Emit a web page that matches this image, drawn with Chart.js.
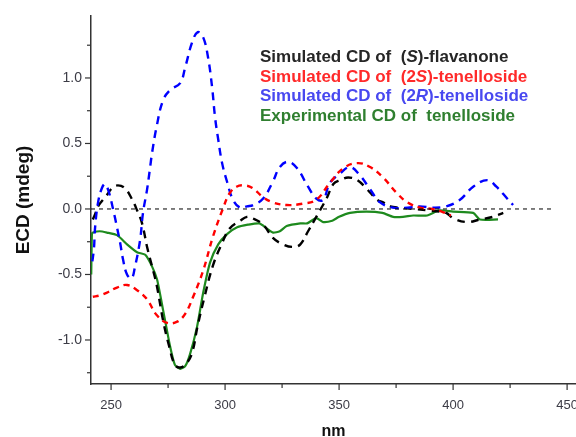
<!DOCTYPE html>
<html>
<head>
<meta charset="utf-8">
<script src="https://cdn.jsdelivr.net/npm/chart.js@4.4.1/dist/chart.umd.min.js"></script>
<style>
  html, body { margin: 0; padding: 0; background: #fff; }
  #wrap { width: 576px; height: 437px; }
</style>
</head>
<body>
<div id="wrap"><canvas id="ecd-chart"></canvas></div>
<script>
// wavelengths (nm) and ECD values (mdeg)
var flavNm   = [242, 243, 244.3, 246, 247.5, 250.5, 253, 256, 259, 261.4, 263.6, 265.8, 268, 270, 272.8, 275.5, 278, 280.3, 283, 285.5, 288, 291, 294.7, 298.7, 302, 306.6, 309.6, 312, 316.7, 321, 325.4, 330, 333, 336.4, 340, 344.5, 347.5, 350.5, 354, 358, 362.3, 366.7, 369.3, 372.4, 376.8, 382.5, 388.6, 394.3, 397, 400, 406, 411.8, 417.5, 422];
var flavCD   = [-0.08, -0.04, 0.02, 0.06, 0.09, 0.16, 0.18, 0.16, 0.08, -0.01, -0.11, -0.29, -0.44, -0.58, -0.85, -1.05, -1.19, -1.21, -1.18, -1.10, -0.89, -0.67, -0.43, -0.26, -0.15, -0.09, -0.06, -0.07, -0.12, -0.22, -0.27, -0.29, -0.27, -0.17, -0.06, 0.08, 0.19, 0.22, 0.24, 0.22, 0.15, 0.07, 0.05, 0.02, 0.01, 0.00, -0.01, -0.02, -0.03, -0.07, -0.10, -0.08, -0.06, -0.03];

var twoSNm   = [242, 245, 248, 252.6, 257, 261.4, 265.8, 270, 274.6, 279, 282.5, 286, 290.4, 294.7, 299, 302, 305, 308.5, 312, 316.7, 321, 327, 334, 340, 346, 351.8, 358, 363.6, 369.3, 375.4, 380, 385.5, 391, 395, 399];
var twoSCD   = [-0.67, -0.66, -0.64, -0.60, -0.58, -0.62, -0.69, -0.81, -0.87, -0.86, -0.80, -0.67, -0.47, -0.21, 0.00, 0.12, 0.17, 0.18, 0.16, 0.09, 0.05, 0.03, 0.04, 0.07, 0.20, 0.31, 0.35, 0.32, 0.24, 0.12, 0.05, 0.01, 0.00, -0.02, -0.05];

var twoRNm   = [241.8, 242.5, 243, 244.3, 246, 247.4, 249, 251, 252.6, 254, 255.3, 257, 259, 260.5, 262.7, 264, 265.8, 267, 268, 270, 272.8, 276, 280.3, 282.5, 285.5, 288, 290.4, 292.5, 294.3, 295.6, 297, 298.7, 301, 303.5, 306.6, 309.6, 312.3, 316.7, 321, 324, 327.6, 331.6, 336.4, 340, 343, 346, 350.4, 354.8, 359, 363.6, 368, 373.7, 380, 385.5, 391, 397, 403, 408.8, 415, 419, 423.7, 426.3];
var twoRCD   = [-0.40, -0.30, -0.14, 0.05, 0.16, 0.19, 0.13, -0.01, -0.14, -0.26, -0.39, -0.50, -0.53, -0.44, -0.24, -0.03, 0.15, 0.30, 0.43, 0.63, 0.83, 0.91, 0.96, 1.08, 1.27, 1.35, 1.31, 1.16, 0.93, 0.70, 0.53, 0.35, 0.20, 0.07, 0.01, 0.02, 0.03, 0.08, 0.21, 0.32, 0.36, 0.31, 0.17, 0.08, 0.07, 0.20, 0.27, 0.32, 0.26, 0.15, 0.05, 0.01, 0.01, 0.02, 0.01, 0.02, 0.07, 0.17, 0.22, 0.17, 0.08, 0.03];

var expNm    = [241.3, 241.6, 242.1, 245, 248.2, 252.6, 257, 261.4, 265, 268, 270.2, 272.8, 275.9, 278, 280.3, 282.5, 284.6, 287.7, 290.4, 293.4, 297, 301, 305.3, 310, 315, 318.4, 321, 324, 327, 333, 336, 340, 343, 347, 350, 354.8, 362, 369, 373.7, 378, 382.5, 388.6, 394, 400, 408.8, 411.8, 419.7];
var expCD    = [-0.50, -0.19, -0.18, -0.17, -0.18, -0.20, -0.27, -0.33, -0.35, -0.44, -0.54, -0.77, -1.05, -1.19, -1.22, -1.20, -1.11, -0.90, -0.64, -0.41, -0.27, -0.19, -0.14, -0.12, -0.11, -0.15, -0.18, -0.17, -0.13, -0.11, -0.11, -0.07, -0.10, -0.09, -0.06, -0.03, -0.02, -0.03, -0.06, -0.06, -0.05, -0.05, -0.01, -0.02, -0.03, -0.08, -0.08];

var zeroNm   = [241.2, 444];
var zeroCD   = [0, 0];

var xTicks = [250, 275, 300, 325, 350, 375, 400, 425, 450];
var yTicks = [-1.25, -1.0, -0.75, -0.5, -0.25, 0.0, 0.25, 0.5, 0.75, 1.0, 1.25];

var legendRows = [
  { color: '#262626', parts: [['Simulated CD of  (', false], ['S', true], [')-flavanone', false]] },
  { color: '#ff2a2a', parts: [['Simulated CD of  (2', false], ['S', true], [')-tenelloside', false]] },
  { color: '#4848f0', parts: [['Simulated CD of  (2', false], ['R', true], [')-tenelloside', false]] },
  { color: '#2f7f2f', parts: [['Experimental CD of  tenelloside', false]] }
];

function pairs(xs, ys) {
  return xs.map(function (x, i) { return { x: x, y: ys[i] }; });
}

function isHalf(v) {
  return Math.abs(v * 2 - Math.round(v * 2)) < 1e-6;
}

// outward tick marks, long on labelled ticks and short on the others
var tickMarks = {
  id: 'tickMarks',
  afterDraw: function (chart) {
    var ctx = chart.ctx;
    var xs = chart.scales.x, ys = chart.scales.y;
    ctx.save();
    ctx.strokeStyle = '#333';
    ctx.lineWidth = 1.2;
    xTicks.forEach(function (v) {
      var px = xs.getPixelForValue(v);
      var len = (v % 50 === 0) ? 6 : 4;
      ctx.beginPath();
      ctx.moveTo(px, xs.top);
      ctx.lineTo(px, xs.top + len);
      ctx.stroke();
    });
    yTicks.forEach(function (v) {
      var py = ys.getPixelForValue(v);
      var len = isHalf(v) ? 6 : 4;
      ctx.beginPath();
      ctx.moveTo(ys.right, py);
      ctx.lineTo(ys.right - len, py);
      ctx.stroke();
    });
    ctx.restore();
  }
};

// legend text with italic stereo descriptors
var textLegend = {
  id: 'textLegend',
  afterDraw: function (chart) {
    var ctx = chart.ctx;
    ctx.save();
    ctx.textBaseline = 'alphabetic';
    legendRows.forEach(function (row, i) {
      var x = 260;
      var y = 62 + i * 19.5;
      ctx.fillStyle = row.color;
      row.parts.forEach(function (p) {
        ctx.font = (p[1] ? 'italic ' : '') + 'bold 17px "Liberation Sans", Arial, sans-serif';
        ctx.fillText(p[0], x, y);
        x += ctx.measureText(p[0]).width;
      });
    });
    ctx.restore();
  }
};

var ctx = document.getElementById('ecd-chart');

var ecdChart = new Chart(ctx, {
  type: 'line',
  data: {
    datasets: [
      {
        label: 'zero',
        data: pairs(zeroNm, zeroCD),
        borderColor: '#000',
        borderWidth: 1,
        borderDash: [4, 4],
        pointRadius: 0
      },
      {
        label: 'Simulated CD of (2S)-tenelloside',
        data: pairs(twoSNm, twoSCD),
        borderColor: '#ff0000',
        borderWidth: 2.4,
        borderDash: [6, 5],
        pointRadius: 0,
        tension: 0.4
      },
      {
        label: 'Simulated CD of (2R)-tenelloside',
        data: pairs(twoRNm, twoRCD),
        borderColor: '#0000ff',
        borderWidth: 2.4,
        borderDash: [8, 6],
        pointRadius: 0,
        tension: 0.4
      },
      {
        label: 'Simulated CD of (S)-flavanone',
        data: pairs(flavNm, flavCD),
        borderColor: '#000000',
        borderWidth: 2.4,
        borderDash: [8, 6],
        pointRadius: 0,
        tension: 0.4
      },
      {
        label: 'Experimental CD of tenelloside',
        data: pairs(expNm, expCD),
        borderColor: '#1e8a1e',
        borderWidth: 2.2,
        pointRadius: 0,
        tension: 0.2
      }
    ]
  },
  options: {
    responsive: true,
    maintainAspectRatio: false,
    animation: false,
    layout: { padding: { top: 16, right: 0, left: 0, bottom: 0 } },
    plugins: {
      legend: { display: false },
      tooltip: { enabled: false }
    },
    scales: {
      x: {
        type: 'linear',
        min: 241.2,
        max: 453.9,
        afterBuildTicks: function (axis) {
          axis.ticks = xTicks.map(function (v) { return { value: v }; });
        },
        afterFit: function (axis) {
          axis.height = 53;
          axis.paddingLeft = 0;
          axis.paddingRight = 0;
        },
        grid: { display: false, drawTicks: false },
        border: { display: true, color: '#333', width: 1.5 },
        ticks: {
          autoSkip: false,
          maxRotation: 0,
          padding: 14,
          color: '#3c3c46',
          font: { family: '"Liberation Sans", Arial, sans-serif', size: 13 },
          callback: function (v) { return v % 50 === 0 ? String(v) : ''; }
        },
        title: {
          display: true,
          text: 'nm',
          color: '#111',
          padding: { top: 0, bottom: -3 },
          font: { family: '"Liberation Sans", Arial, sans-serif', size: 16, weight: 'bold', lineHeight: 1 }
        }
      },
      y: {
        type: 'linear',
        min: -1.336,
        max: 1.473,
        afterBuildTicks: function (axis) {
          axis.ticks = yTicks.map(function (v) { return { value: v }; });
        },
        afterFit: function (axis) {
          axis.width = 91;
          axis.paddingTop = 0;
          axis.paddingBottom = 0;
        },
        grid: { display: false, drawTicks: false },
        border: { display: true, color: '#333', width: 1.5 },
        ticks: {
          autoSkip: false,
          padding: 9,
          color: '#3c3c46',
          font: { family: '"Liberation Sans", Arial, sans-serif', size: 14 },
          callback: function (v) { return isHalf(v) ? v.toFixed(1) : ''; }
        },
        title: {
          display: true,
          text: 'ECD (mdeg)',
          color: '#111',
          padding: { top: 12, bottom: 0 },
          font: { family: '"Liberation Sans", Arial, sans-serif', size: 19, weight: 'bold' }
        }
      }
    }
  },
  plugins: [tickMarks, textLegend]
});
</script>
</body>
</html>
